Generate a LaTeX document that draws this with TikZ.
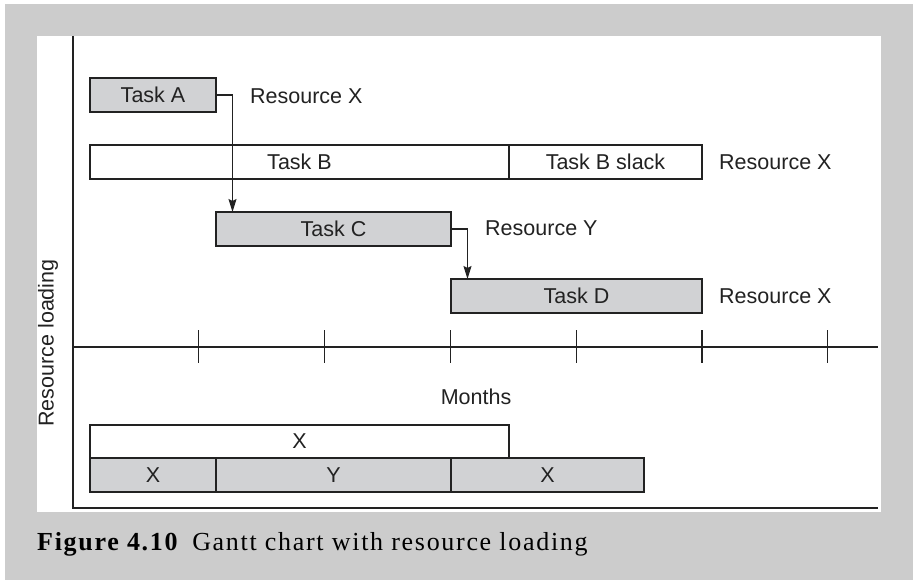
\documentclass[tikz,border=0pt]{standalone}
\usepackage{fontspec}
\usetikzlibrary{calc,arrows.meta}
\newfontfamily\labfont{Liberation Sans}
\newfontfamily\capfont[LetterSpace=6.5]{Liberation Serif}
\definecolor{bggray}{HTML}{CCCCCC}
\definecolor{boxgray}{HTML}{D1D2D4}
\definecolor{ink}{HTML}{222222}
\tikzset{
  x=1bp, y=-1bp,
  ln/.style={draw=ink, line width=1.2bp},
  bar/.style={ln, rectangle, inner sep=0pt, outer sep=0pt, minimum height=34bp, text=ink, font=\labfont\fontsize{21.5bp}{25bp}\selectfont},
  gbar/.style={bar, fill=boxgray},
  wbar/.style={bar, fill=white},
  lab/.style={text=ink, inner sep=0pt, font=\labfont\fontsize{21.5bp}{25bp}\selectfont},
  arr/.style={ln, -{Stealth[length=13bp,width=8bp,inset=2bp]}},
}
\begin{document}
\begin{tikzpicture}
\useasboundingbox (0,0) rectangle (913,580);
\fill[white] (0,0) rectangle (913,580);
\fill[bggray] (5,4) rectangle (913,580);
\fill[white] (37,36) rectangle (881,512);

% axes
\draw[ln] (73,36) -- (73,508) -- (878,508);
\draw[ln] (73,347) -- (878,347);
\foreach \k in {1,...,6} {
  \draw[ln] ({73+125.8*\k},330) -- ({73+125.8*\k},363);
}

% tasks
\node[gbar, minimum width=126bp] (A) at (153,95) {Task A};
\node[wbar, minimum width=419bp] (B) at (299.5,162) {Task B};
\node[wbar, minimum width=193bp] (Bs) at (605.5,162) {Task B slack};
\node[gbar, minimum width=235bp] (C) at (333.5,229) {Task C};
\node[gbar, minimum width=251bp] (D) at (576.5,296) {Task D};

% resource labels
\node[lab, anchor=west] (rA) at (250,96) {Resource X};
\node[lab, anchor=west] (rB) at (719,162) {Resource X};
\node[lab, anchor=west] (rC) at (485,228) {Resource Y};
\node[lab, anchor=west] (rD) at (719,296) {Resource X};

% dependency connectors
\draw[arr] (A.east) -| ($(C.north west)+(16.5,0)$);
\draw[arr] (C.east) -| ($(D.north west)+(16.5,0)$);

% axis labels
\node[lab] (months) at (476,397) {Months};
\node[lab, rotate=90] (rl) at (48,343) {Resource loading};

% resource loading bars
\node[wbar, minimum width=419bp, minimum height=33bp] (L1) at (299.5,441.5) {X};
\node[gbar, minimum width=126bp] (L2) at (153,475) {X};
\node[gbar, minimum width=235bp] (L3) at (333.5,475) {Y};
\node[gbar, minimum width=193bp] (L4) at (547.5,475) {X};

% caption
\node[anchor=base west, inner sep=0pt, text=black, font=\capfont\fontsize{26bp}{30bp}\selectfont] (cap) at (37,550) {\textbf{Figure 4.10}\hspace{0.5em}Gantt chart with resource loading};
\end{tikzpicture}
\end{document}
